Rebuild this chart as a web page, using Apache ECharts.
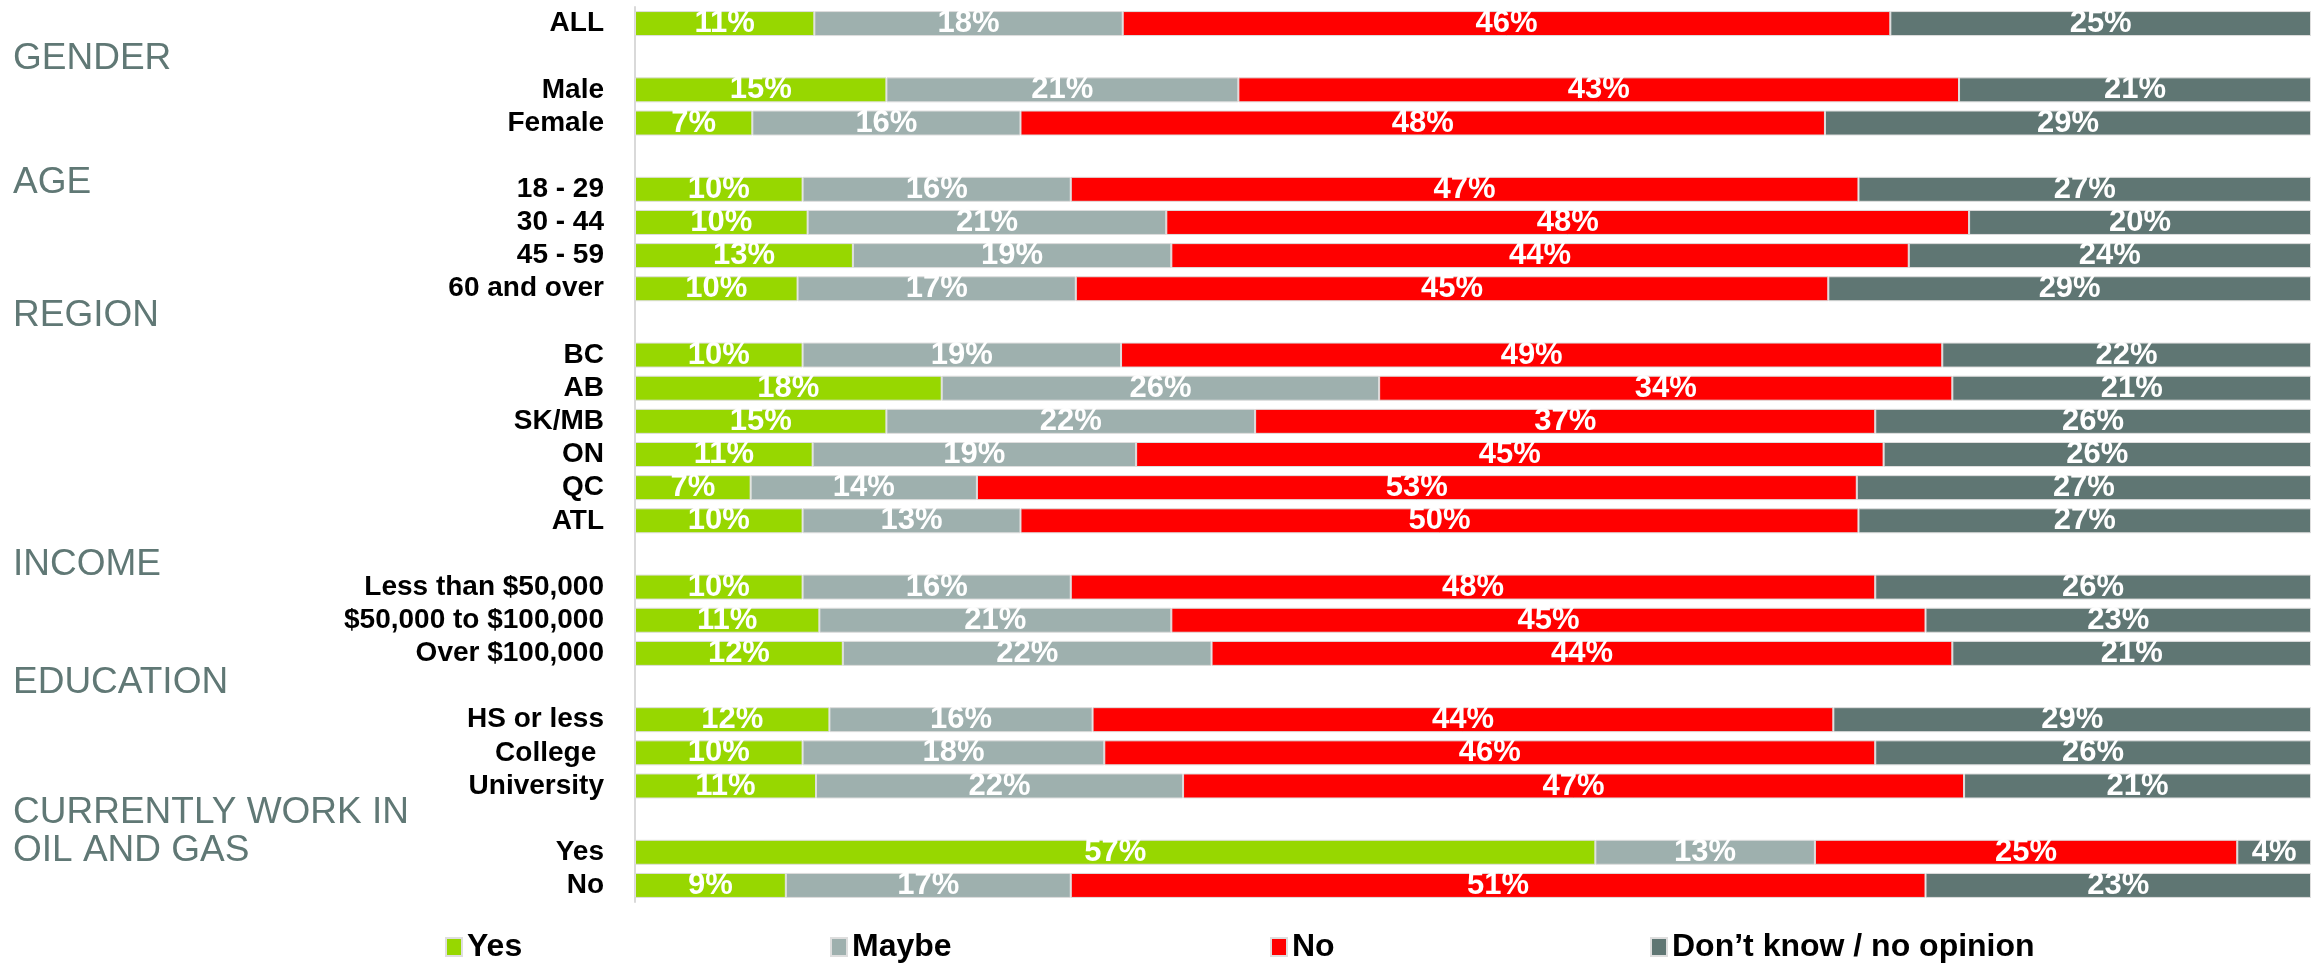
<!DOCTYPE html>
<html>
<head>
<meta charset="utf-8">
<script src="https://cdn.jsdelivr.net/npm/echarts@6/dist/echarts.min.js"></script>
<style>
html,body{margin:0;padding:0;background:#fff;}
#chart{width:2316px;height:963px;}
</style>
</head>
<body>
<div id="chart"></div>
<script>
// Row labels ('' = spacer row under a group heading)
const categories = ['ALL','','Male','Female','','18 - 29','30 - 44','45 - 59','60 and over','',
  'BC','AB','SK/MB','ON','QC','ATL','','Less than $50,000','$50,000 to $100,000','Over $100,000','',
  'HS or less','College ','University','','Yes','No'];
const seriesNames = ['Yes','Maybe','No','Don\u2019t know / no opinion'];
// Values (percent)
const yesVals   = [10.7,'-',15,7,'-',10,10.3,13,9.7,'-',10,18.3,15,10.6,6.9,10,'-',10,11,12.4,'-',11.6,10,10.8,'-',57.3,9];
const maybeVals = [18.4,'-',21,16,'-',16,21.4,19,16.6,'-',19,26.1,22,19.3,13.5,13,'-',16,21,22.0,'-',15.7,18,21.9,'-',13.1,17];
const noVals    = [45.8,'-',43,48,'-',47,47.9,44,44.9,'-',49,34.2,37,44.6,52.5,50,'-',48,45,44.2,'-',44.2,46,46.6,'-',25.2,51];
const dkVals    = [25.1,'-',21,29,'-',27,20.4,24,28.8,'-',22,21.4,26,25.5,27.1,27,'-',26,23,21.4,'-',28.5,26,20.7,'-',4.4,23];
const colors = ['#97d700','#9eb0ae','#ff0000','#5f7673'];
const groupHeadings = [
  {text:'GENDER', y:56},
  {text:'AGE', y:180},
  {text:'REGION', y:313},
  {text:'INCOME', y:562},
  {text:'EDUCATION', y:680},
  {text:'CURRENTLY WORK IN', y:810},
  {text:'OIL AND GAS', y:848}
];
const legendLefts = [445, 830, 1270, 1650];

const chart = echarts.init(document.getElementById('chart'));
const allVals = [yesVals, maybeVals, noVals, dkVals];
const series = seriesNames.map((name, i) => ({
  name: name,
  type: 'bar',
  stack: 'total',
  barWidth: 25,
  data: allVals[i],
  itemStyle: {color: colors[i], borderColor: '#dedede', borderWidth: 1},
  label: {
    show: true,
    position: 'inside',
    color: '#fff',
    fontFamily: 'Liberation Sans',
    fontWeight: 'bold',
    fontSize: 31,
    formatter: p => (p.value === '-' || p.value == null) ? '' : Math.round(p.value) + '%'
  },
  emphasis: {disabled: true},
  animation: false
}));

const option = {
  animation: false,
  grid: {left: 635, right: 5, top: 7, bottom: 61, containLabel: false},
  xAxis: {type: 'value', min: 0, max: 100, show: false},
  yAxis: {
    type: 'category',
    data: categories,
    inverse: true,
    axisLine: {show: true, lineStyle: {color: '#d9d9d9', width: 2}},
    axisTick: {show: false},
    splitLine: {show: false},
    axisLabel: {
      color: '#000', fontFamily: 'Liberation Sans', fontWeight: 'bold', fontSize: 28, margin: 31,
      interval: 0
    }
  },
  legend: seriesNames.map((n, i) => ({
    data: [n],
    left: legendLefts[i],
    top: 931,
    padding: 0,
    icon: 'rect',
    itemWidth: 16,
    itemHeight: 18,
    itemGap: 6,
    textStyle: {color: '#000', fontFamily: 'Liberation Sans', fontWeight: 'bold', fontSize: 32, lineHeight: 32},
    selectedMode: false
  })),
  graphic: groupHeadings.map(h => ({
    type: 'text',
    left: 13,
    top: h.y - 16,
    style: {
      text: h.text,
      fill: '#607875',
      font: '37px "Liberation Sans"',
      textVerticalAlign: 'top'
    }
  })),
  series: series
};
chart.setOption(option);
</script>
</body>
</html>
